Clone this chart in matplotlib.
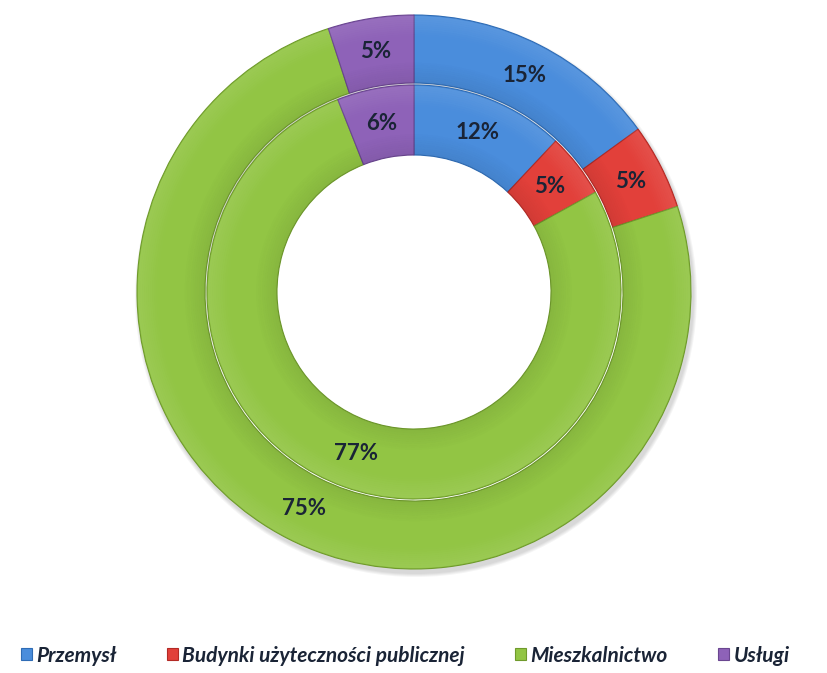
import numpy as np
import matplotlib.pyplot as plt
from matplotlib.patches import Wedge, Patch

# --- Data ---
categories = ["Przemysł", "Budynki użyteczności publicznej", "Mieszkalnictwo", "Usługi"]
outer_values = [15, 5, 75, 5]
inner_values = [12, 5, 77, 6]
colors = ["#4a8ddc", "#e2403a", "#92c544", "#8e62b8"]
edge_colors = ["#2f6cb5", "#b32a25", "#6f9a2c", "#6a4690"]

plt.rcParams['font.family'] = ['Lato', 'DejaVu Sans']

fig = plt.figure(figsize=(8.27, 6.73), dpi=100)
ax = fig.add_axes([0, 0, 1, 1])

center = (414, 381)


def ring(values, r_out, width, label_r):
    wedges, _ = ax.pie(values, radius=r_out, center=center, startangle=90,
                       counterclock=False, colors=colors, frame=True,
                       wedgeprops=dict(width=width, linewidth=0.8))
    for w, ec in zip(wedges, edge_colors):
        w.set_edgecolor(ec)
    # smooth bevel: light near outer edge, darker near inner edge
    n = 10
    step = width * 0.3 / n
    for w in wedges:
        t1, t2 = w.theta1, w.theta2
        for i in range(n):
            a = 0.035 * (1 - i / n)
            ax.add_patch(Wedge(center, r_out - 1 - i * step, t1, t2, width=step,
                               facecolor="white", alpha=a * 2.4, lw=0))
            ax.add_patch(Wedge(center, r_out - width + (i + 1) * step, t1, t2,
                               width=step, facecolor="black", alpha=a * 2, lw=0))
    total = sum(values)
    for w, v in zip(wedges, values):
        mid = np.deg2rad((w.theta1 + w.theta2) / 2)
        x = center[0] + label_r * np.cos(mid)
        y = center[1] + label_r * np.sin(mid)
        ax.text(x, y, f"{round(v / total * 100)}%", ha='center', va='center',
                fontsize=16, fontweight='bold', color='#1a2436')


# soft shadow under the outer ring
for k in range(4):
    ax.add_patch(Wedge((center[0] + 2, center[1] - 4), 278 + k, 0, 360, width=70,
                       facecolor="black", alpha=0.04, lw=0))

ring(outer_values, 277, 68, 243)
ring(inner_values, 207, 70, 172)

ax.set_xlim(0, 827)
ax.set_ylim(0, 673)
ax.set_aspect('equal')
ax.axis('off')

handles = [Patch(facecolor=c, edgecolor=ec, lw=0.8) for c, ec in zip(colors, edge_colors)]
leg = fig.legend(handles, categories, loc='center', bbox_to_anchor=(0.49, 0.026),
                 ncol=4, frameon=False, handlelength=0.55, handleheight=0.55,
                 handletextpad=0.2, columnspacing=2.4,
                 prop=dict(family=['Lato', 'DejaVu Sans'], weight='bold',
                           style='italic', size=15))
for t in leg.get_texts():
    t.set_color('#1a2436')

fig.savefig("out.png", dpi=100)
